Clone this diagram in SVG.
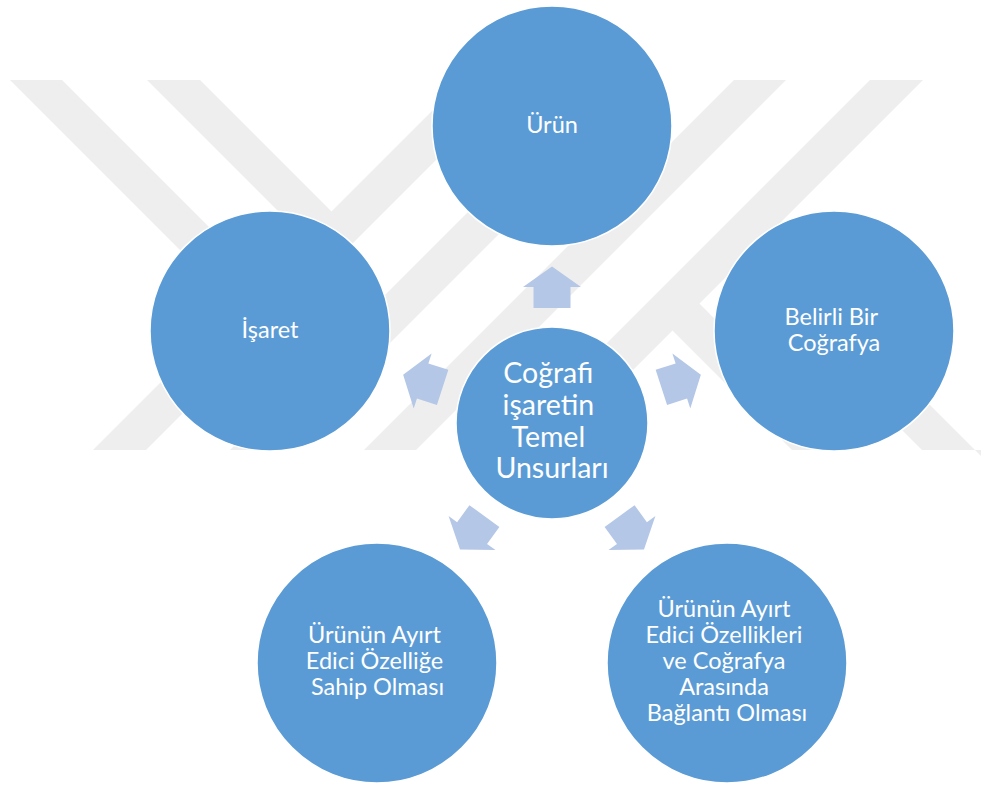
<svg xmlns="http://www.w3.org/2000/svg" width="981" height="785" viewBox="0 0 981 785">
  <defs>
    <style>
      .mark { fill: #eeeeee; }
      .node { fill: #5b9bd5; stroke: #ffffff; stroke-width: 1.5; }
      .label { fill: #ffffff; font-family: Lato, "Open Sans", "Liberation Sans", sans-serif; text-anchor: middle; }
      .outer { font-size: 23.5px; }
      .hub { font-size: 28.5px; }
      .arrow { fill: #b4c7e7; }
    </style>
    <!-- block arrow pointing up, measured from the hub centre -->
    <polygon id="blockArrow" points="-18.5,-115 -18.5,-136 -29,-136 0,-156.5 29,-136 18.5,-136 18.5,-115"/>
  </defs>

  <rect width="981" height="785" fill="#ffffff"/>

  <!-- faint striped background emblem -->
  <g id="background-emblem" class="mark">
    <polygon points="10,80 62,80 341,359 315,385"/>
    <polygon points="147,80 200,80 340,220 313.5,246.5"/>
    <polygon points="93,450 146,450 516,80 463,80"/>
    <polygon points="230,450 283,450 653,80 600,80"/>
    <polygon points="364,450 416,450 786,80 734,80"/>
    <polygon points="500,450 553,450 923,80 870,80"/>
    <polygon points="685.5,289.5 845,450 792,450 658.5,316.5"/>
    <polygon points="750,225 981,456 981,450 922,450 723.5,251.5"/>
  </g>

  <!-- arrows from the hub to each element -->
  <g id="connectors" class="arrow">
    <use href="#blockArrow" transform="translate(552,423)"/>
    <use href="#blockArrow" transform="translate(552,423) rotate(-72)"/>
    <use href="#blockArrow" transform="translate(552,423) rotate(72)"/>
    <use href="#blockArrow" transform="translate(552,423) rotate(-144)"/>
    <use href="#blockArrow" transform="translate(552,423) rotate(144)"/>
  </g>

  <g id="hub">
    <circle class="node" cx="552" cy="423" r="96"/>
    <text class="label hub" x="552">
      <tspan x="552" y="383">Coğrafi</tspan>
      <tspan x="552" y="415">işaretin</tspan>
      <tspan x="552" y="446.5">Temel</tspan>
      <tspan x="552" y="478">Unsurları</tspan>
    </text>
  </g>

  <g id="urun">
    <circle class="node" cx="552" cy="126" r="120"/>
    <text class="label outer" x="552" y="133">Ürün</text>
  </g>

  <g id="isaret">
    <circle class="node" cx="270" cy="331" r="120"/>
    <text class="label outer" x="270" y="338">İşaret</text>
  </g>

  <g id="belirli-cografya">
    <circle class="node" cx="834" cy="331" r="120"/>
    <text class="label outer">
      <tspan x="834" y="325">Belirli Bir</tspan>
      <tspan x="834" y="351">Coğrafya</tspan>
    </text>
  </g>

  <g id="ayirt-edici-ozellik">
    <circle class="node" cx="377" cy="663" r="120"/>
    <text class="label outer">
      <tspan x="377.5" y="643">Ürünün Ayırt</tspan>
      <tspan x="377.5" y="669">Edici Özelliğe</tspan>
      <tspan x="377.5" y="695">Sahip Olması</tspan>
    </text>
  </g>

  <g id="cografya-baglantisi">
    <circle class="node" cx="727" cy="663" r="120"/>
    <text class="label outer">
      <tspan x="727" y="617">Ürünün Ayırt</tspan>
      <tspan x="727" y="643">Edici Özellikleri</tspan>
      <tspan x="727" y="669">ve Coğrafya</tspan>
      <tspan x="727" y="694.5">Arasında</tspan>
      <tspan x="727" y="720.5">Bağlantı Olması</tspan>
    </text>
  </g>
</svg>
